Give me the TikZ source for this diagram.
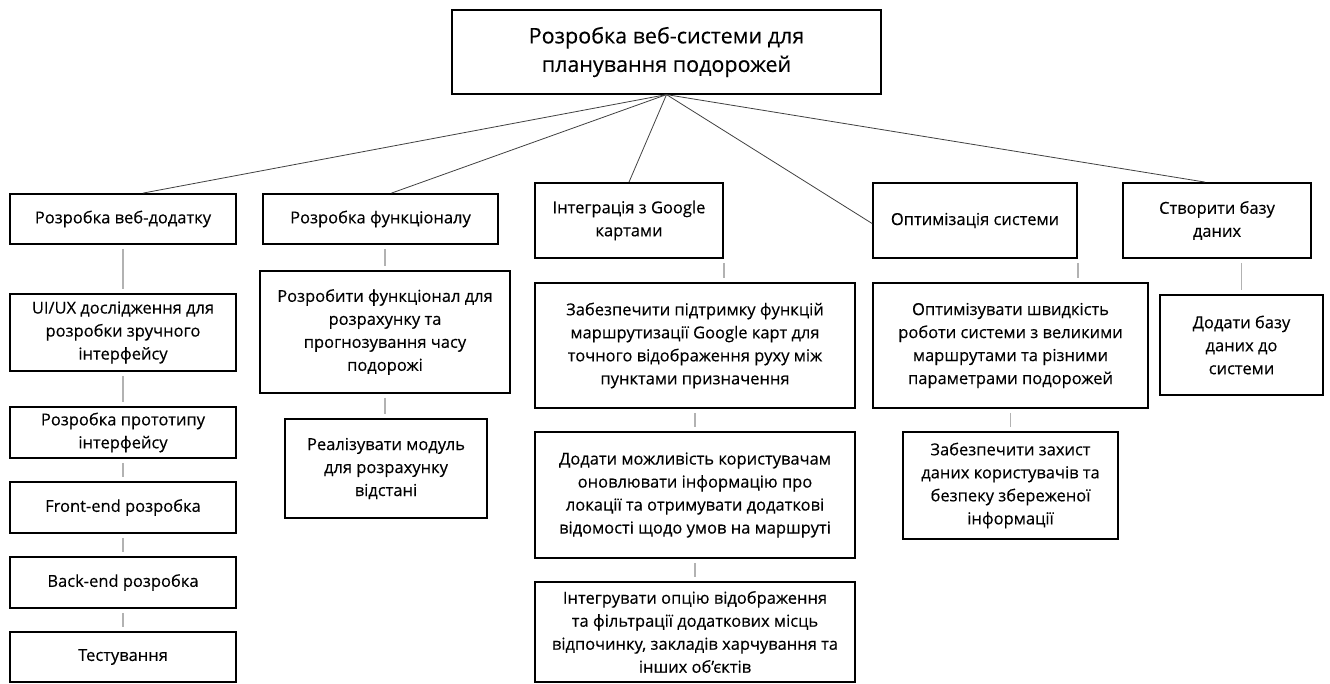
\documentclass[tikz,border=0pt]{standalone}
\usepackage{fontspec}
\setmainfont{Open Sans}[FakeBold=0.3]
\usetikzlibrary{positioning}

\begin{document}
\begin{tikzpicture}[x=1pt, y=-1pt,
    box/.style = {draw, line width=1.8pt, align=center, inner sep=2pt,
                  font=\fontsize{16.5}{23}\selectfont},
    top/.style = {draw, line width=1.2pt, align=center, font=\fontsize{21.5}{28.5}\selectfont,
                  minimum width=429pt, minimum height=84pt},
    tie/.style = {draw=black!75, line width=0.8pt},
    sub/.style = {draw=black!30, line width=1.3pt, shorten <=4pt, shorten >=4pt}]
\useasboundingbox (0,0) rectangle (1330,684);

\node[top] (r) at (666.5,52) {Розробка веб-системи для\\планування подорожей};

% веб-додаток
\node[box, minimum width=226pt, minimum height=50pt] (a1) at (123,219) {Розробка веб-додатку};
\node[box, minimum width=226pt, minimum height=77pt] (a2) at (123,332.5) {UI/UX дослідження для\\розробки зручного\\інтерфейсу};
\node[box, minimum width=226pt, minimum height=51pt] (a3) at (123,432.5) {Розробка прототипу\\інтерфейсу};
\node[box, minimum width=226pt, minimum height=51pt] (a4) at (123,507.5) {Front-end розробка};
\node[box, minimum width=226pt, minimum height=51pt] (a5) at (123,582.5) {Back-end розробка};
\node[box, minimum width=226pt, minimum height=50pt] (a6) at (123,657) {Тестування};

% функціонал
\node[box, minimum width=235pt, minimum height=50pt] (b1) at (380.5,219) {Розробка функціоналу};
\node[box, minimum width=250pt, minimum height=122pt] (b2) at (385,332) {Розробити функціонал для\\розрахунку та\\прогнозування часу\\подорожі};
\node[box, minimum width=202pt, minimum height=99pt] (b3) at (386,468.5) {Реалізувати модуль\\для розрахунку\\відстані};

% Google карти
\node[box, minimum width=188pt, minimum height=75pt] (c1) at (629,220.5) {Інтеграція з Google\\картами};
\node[box, minimum width=320pt, minimum height=125pt] (c2) at (695,345.5) {Забезпечити підтримку функцій\\маршрутизації Google карт для\\точного відображення руху між\\пунктами призначення};
\node[box, minimum width=320pt, minimum height=126pt] (c3) at (695,495) {Додати можливість користувачам\\оновлювати інформацію про\\локації та отримувати додаткові\\відомості щодо умов на маршруті};
\node[box, minimum width=320pt, minimum height=100pt] (c4) at (695,632) {Інтегрувати опцію відображення\\та фільтрації додаткових місць\\відпочинку, закладів харчування та\\інших об'єктів};

% оптимізація
\node[box, minimum width=204pt, minimum height=75pt] (d1) at (975,220.5) {Оптимізація системи};
\node[box, minimum width=275pt, minimum height=125pt] (d2) at (1010.5,345.5) {Оптимізувати швидкість\\роботи системи з великими\\маршрутами та різними\\параметрами подорожей};
\node[box, minimum width=215pt, minimum height=107pt] (d3) at (1010.5,485.5) {Забезпечити захист\\даних користувачів та\\безпеку збереженої\\інформації};

% база даних
\node[box, minimum width=188pt, minimum height=75pt] (e1) at (1217,220.5) {Створити базу\\даних};
\node[box, minimum width=163pt, minimum height=100pt] (e2) at (1241.5,345) {Додати базу\\даних до\\системи};

% from the top box
\draw[tie] (r.south) -- ([xshift=20pt]a1.north);
\draw[tie] (r.south) -- ([xshift=11pt]b1.north);
\draw[tie] (r.south) -- (c1.north);
\draw[tie] (r.south) -- ([yshift=-3pt]d1.west);
\draw[tie] (r.south) -- ([xshift=-12pt]e1.north);

% down the columns
\draw[sub] (a1) -- (a2);
\draw[sub] (a2) -- (a3);
\draw[sub] (a3) -- (a4);
\draw[sub] (a4) -- (a5);
\draw[sub] (a5) -- (a6);
\draw[sub] (b1.south -| b2) -- (b2);
\draw[sub] (b2) -- (b2 |- b3.north);
\draw[sub] (c1.south east) -- (c1.south east |- c2.north);
\draw[sub] (c2) -- (c3);
\draw[sub] (c3) -- (c4);
\draw[sub] (d1.south east) -- (d1.south east |- d2.north);
\draw[sub] (d2) -- (d3);
\draw[sub] (e1.south -| e2) -- (e2);
\end{tikzpicture}
\end{document}
